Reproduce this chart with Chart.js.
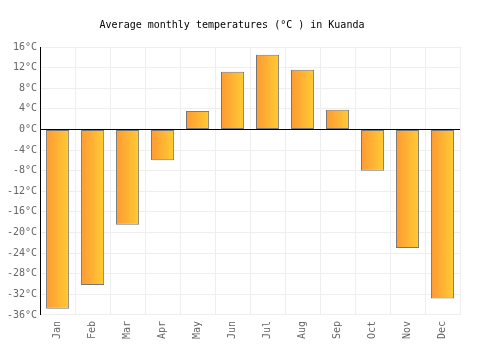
<!DOCTYPE html>
<html><head><meta charset="utf-8">
<script src="https://cdn.jsdelivr.net/npm/chart.js@4/dist/chart.umd.min.js"></script>
<style>html,body{margin:0;padding:0;background:#fff}#wrap{width:500px;height:350px}</style>
</head><body><div id="wrap"><canvas id="c"></canvas></div>
<script>
const months = ["Jan","Feb","Mar","Apr","May","Jun","Jul","Aug","Sep","Oct","Nov","Dec"];
const temps = [-34.8, -30.2, -18.5, -6.0, 3.6, 11.2, 14.5, 11.6, 3.8, -8.0, -23.0, -32.8];
const yMin = -36, yMax = 16, yStep = 4;
const unit = "°C";
const titleText = "Average monthly temperatures (°C ) in Kuanda";

const FONT = "'DejaVu Sans Mono', monospace";
const BAR_PCT = 0.66;

function barFill(ctx) {
  const chart = ctx.chart;
  const xs = chart.scales && chart.scales.x;
  if (ctx.type !== 'data' || !xs || !isFinite(xs.width) || xs.width <= 0) return '#ffb033';
  const cx = xs.getPixelForValue(ctx.dataIndex);
  const half = xs.width / months.length * BAR_PCT / 2;
  const g = chart.ctx.createLinearGradient(cx - half, 0, cx + half, 0);
  g.addColorStop(0, '#ff9933');
  g.addColorStop(1, '#ffcc33');
  return g;
}

new Chart(document.getElementById('c'), {
  type: 'bar',
  data: {
    labels: months,
    datasets: [{
      data: temps,
      backgroundColor: barFill,
      borderColor: '#777777',
      borderWidth: 1,
      borderSkipped: false,
      barPercentage: BAR_PCT,
      categoryPercentage: 1.0
    }]
  },
  options: {
    responsive: true,
    maintainAspectRatio: false,
    animation: false,
    layout: { padding: { left: 4, right: 40, top: 0, bottom: 5 } },
    plugins: {
      legend: { display: false },
      tooltip: { enabled: false },
      title: {
        display: true,
        text: titleText,
        color: '#000',
        font: { family: FONT, size: 10, weight: 'normal' },
        padding: { top: 19, bottom: 16 }
      }
    },
    scales: {
      x: {
        grid: { color: '#eeeeee', drawTicks: false, offset: true },
        border: { color: '#eeeeee' },
        ticks: {
          color: '#666',
          font: { family: FONT, size: 10 },
          maxRotation: 90, minRotation: 90,
          padding: 6
        }
      },
      y: {
        min: yMin, max: yMax,
        grid: {
          color: (c) => (c.tick && c.tick.value === 0) ? '#000000' : '#eeeeee',
          drawTicks: false
        },
        border: { color: '#000000' },
        ticks: {
          stepSize: yStep,
          color: '#666',
          font: { family: FONT, size: 10 },
          padding: 3,
          callback: (v) => v + unit
        }
      }
    }
  }
});
</script>
</body></html>
